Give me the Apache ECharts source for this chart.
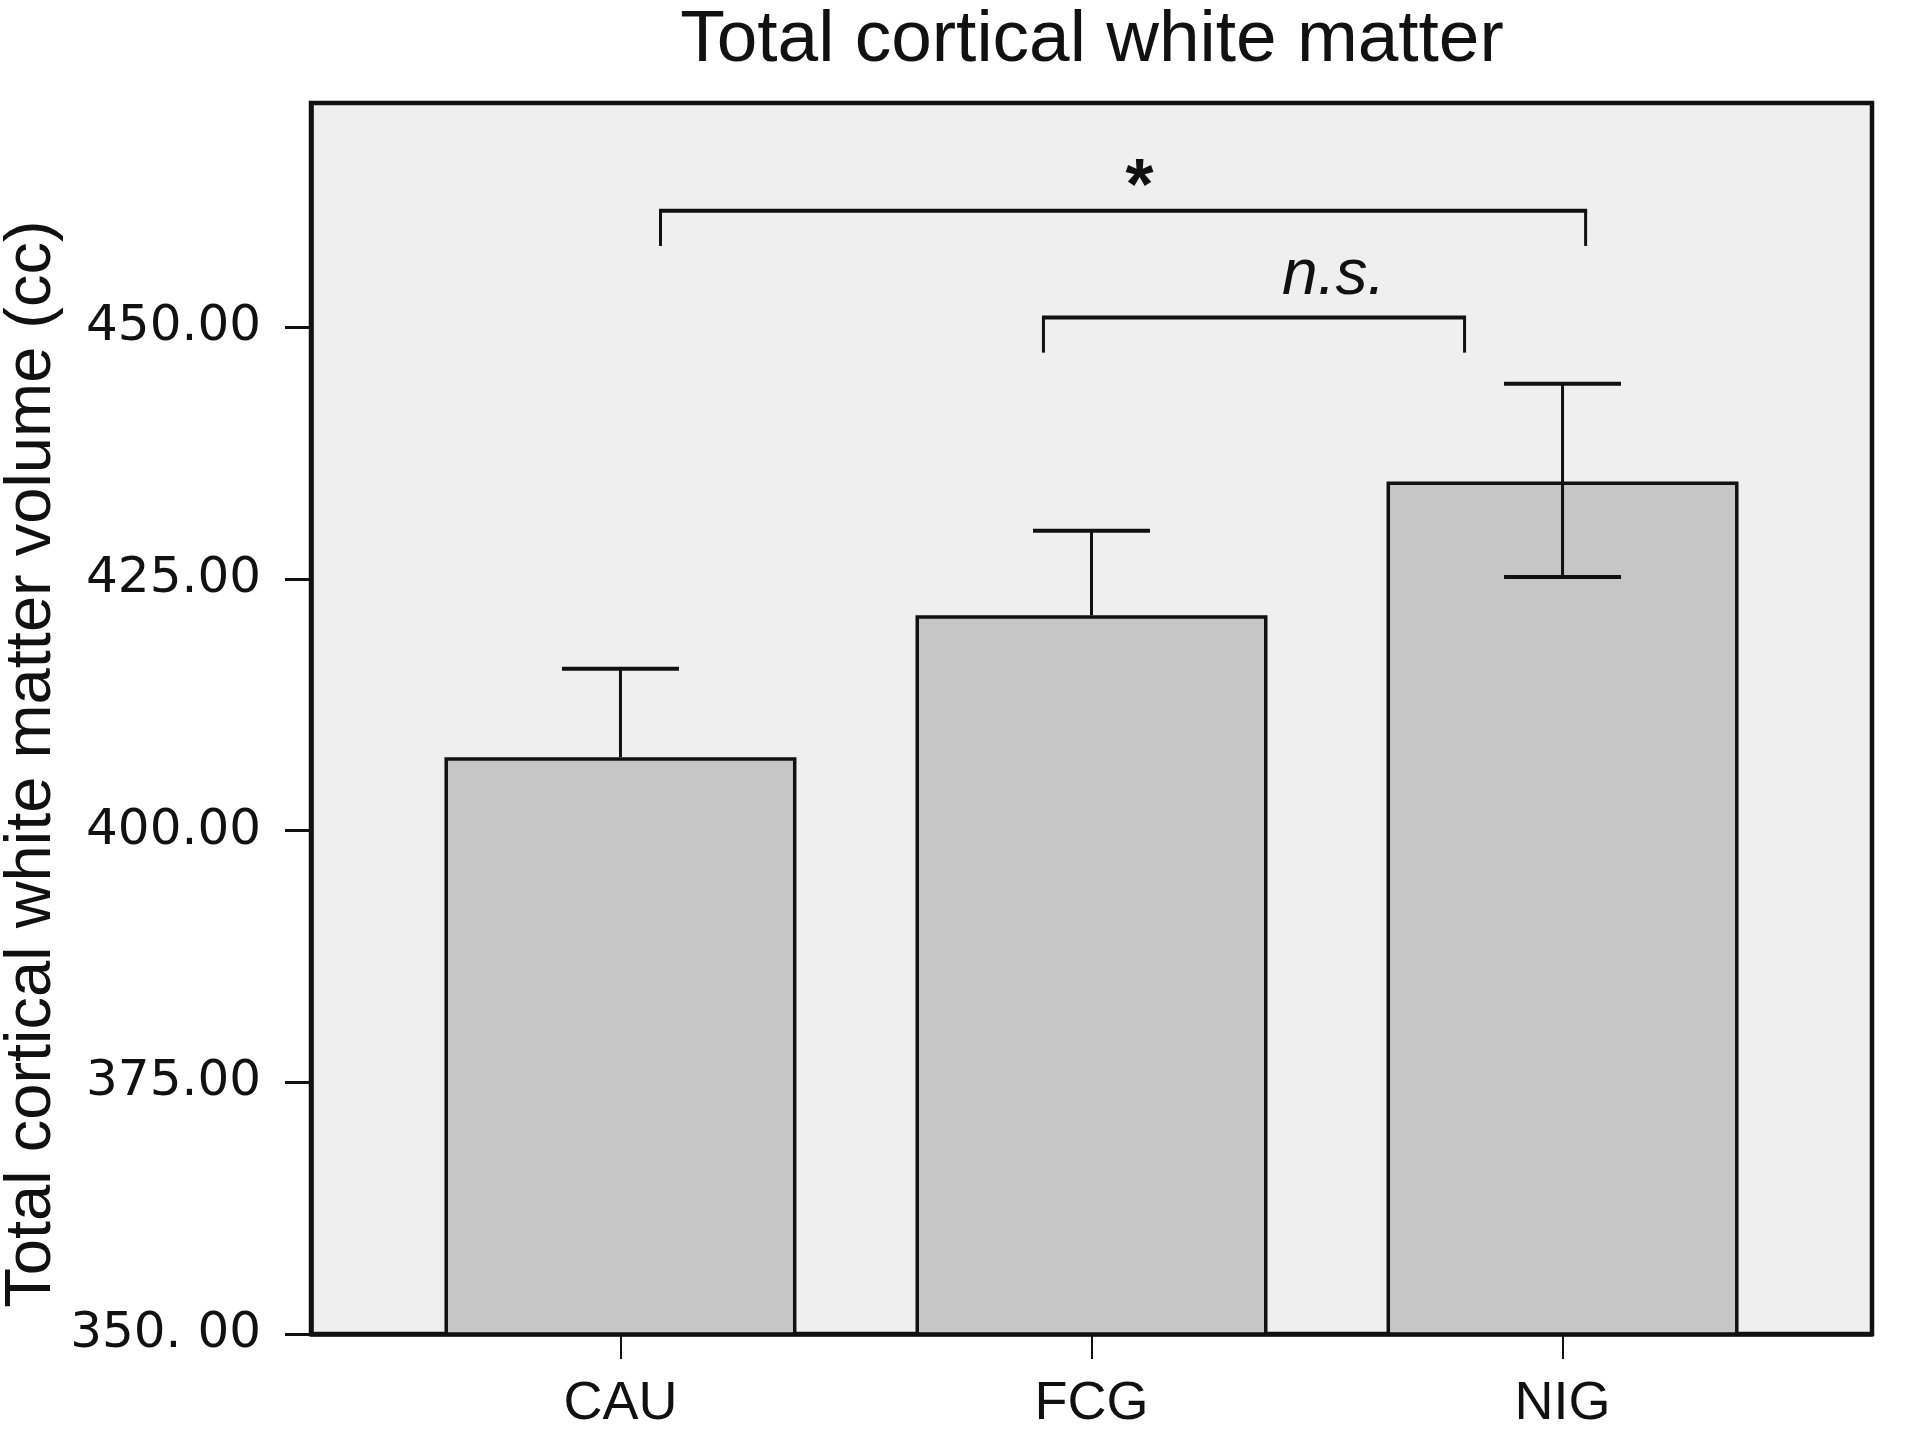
<!DOCTYPE html>
<html>
<head>
<meta charset="utf-8">
<script src="https://cdn.jsdelivr.net/npm/echarts@6/dist/echarts.min.js"></script>
<style>
html,body{margin:0;padding:0;background:#fff;}
#chart{width:1920px;height:1431px;}
</style>
</head>
<body>
<div id="chart"></div>
<script>
// ---- data ----
const categories = ['CAU', 'FCG', 'NIG'];
const categoryPos = [1, 2, 3];
const means = [407.3, 421.4, 434.7];
const errUpper = [416.1, 429.8, 444.4];
const errLower = [null, null, 425.2];
const yTickValues = [350, 375, 400, 425, 450];
const yTickLabels = ['350. 00', '375.00', '400.00', '425.00', '450.00'];
const titleText = 'Total cortical white matter';
const yAxisName = 'Total cortical white matter volume (cc)';
// significance brackets (data coordinates)
const bracketFrom = [1.085, 1.898];
const bracketTo = [3.049, 2.792];
const bracketTop = [461.6, 451.0];
const bracketFoot = [458.1, 447.5];
const bracketLabels = ['*', 'n.s.'];
const bracketLabelX = [2.102, 2.514];
const bracketLabelY = [464.7, 455.1];

const chart = echarts.init(document.getElementById('chart'), null, {renderer: 'canvas'});
const ink = '#111111';
const sans = '"Liberation Sans", Arial, Helvetica, sans-serif';

const barData = categories.map((c, i) => [categoryPos[i], means[i]]);
const errData = categories.map((c, i) => [categoryPos[i], errUpper[i], errLower[i] == null ? means[i] : errLower[i], errLower[i] == null ? 0 : 1]);
const bracketData = bracketFrom.map((x0, i) => [x0, bracketTo[i], bracketTop[i], bracketFoot[i], i]);
const labelData = bracketLabels.map((t, i) => [bracketLabelX[i], bracketLabelY[i], i]);

const option = {
  animation: false,
  backgroundColor: '#ffffff',
  grid: {
    left: 311, right: 48, top: 103, bottom: 95,
    show: true, backgroundColor: '#efefef', borderColor: ink, borderWidth: 4.5
  },
  graphic: [
    {
      type: 'text', x: 1092, y: 4,
      style: {text: titleText, font: '73px ' + sans, fill: ink, textAlign: 'center', textVerticalAlign: 'top'}
    },
    {
      type: 'text', x: 32, y: 764, rotation: Math.PI / 2,
      style: {text: yAxisName, font: '65px ' + sans, fill: ink, textAlign: 'center', textVerticalAlign: 'middle'}
    }
  ],
  xAxis: {
    type: 'value', min: 0.343, max: 3.657,
    splitLine: {show: false},
    axisLine: {show: true, onZero: false, lineStyle: {color: ink, width: 4.5}},
    axisTick: {show: true, customValues: categoryPos, length: 25, inside: false, lineStyle: {color: ink, width: 2}},
    axisLabel: {
      show: true, customValues: categoryPos, margin: 43,
      formatter: v => categories[Math.round(v) - 1] || '',
      color: ink, fontSize: 54, fontFamily: sans
    }
  },
  yAxis: {
    type: 'value', min: 350, max: 472.3,
    splitLine: {show: false},
    axisLine: {show: true, onZero: false, lineStyle: {color: ink, width: 4.5}},
    axisTick: {show: true, customValues: yTickValues, length: 26, lineStyle: {color: ink, width: 3}},
    axisLabel: {
      show: true, customValues: yTickValues, margin: 50,
      formatter: v => { const k = yTickValues.indexOf(Math.round(v)); return k >= 0 ? yTickLabels[k] : ''; },
      color: ink, fontSize: 50, fontFamily: '"DejaVu Sans", sans-serif'
    }
  },
  series: [
    {
      type: 'bar', data: barData, barWidth: 352, clip: true, z: 2,
      itemStyle: {color: '#c6c6c6', borderColor: ink, borderWidth: 3.5}
    },
    {
      type: 'custom', data: errData, z: 5, clip: false,
      renderItem: (params, api) => {
        const x = api.value(0);
        const hi = api.coord([x, api.value(1)]);
        const lo = api.coord([x, api.value(2)]);
        const half = 58.5;
        const children = [
          {type: 'line', shape: {x1: hi[0], y1: hi[1], x2: lo[0], y2: lo[1]}, style: {stroke: ink, lineWidth: 3}},
          {type: 'line', shape: {x1: hi[0] - half, y1: hi[1], x2: hi[0] + half, y2: hi[1]}, style: {stroke: ink, lineWidth: 4}}
        ];
        if (api.value(3) === 1) {
          children.push({type: 'line', shape: {x1: lo[0] - half, y1: lo[1], x2: lo[0] + half, y2: lo[1]}, style: {stroke: ink, lineWidth: 4}});
        }
        return {type: 'group', children};
      }
    },
    {
      type: 'custom', data: bracketData, z: 5, clip: false,
      renderItem: (params, api) => {
        const a = api.coord([api.value(0), api.value(3)]);
        const b = api.coord([api.value(0), api.value(2)]);
        const c = api.coord([api.value(1), api.value(2)]);
        const d = api.coord([api.value(1), api.value(3)]);
        return {
          type: 'group', children: [
            {type: 'line', shape: {x1: a[0], y1: a[1], x2: b[0], y2: b[1]}, style: {stroke: ink, lineWidth: 3}},
            {type: 'line', shape: {x1: b[0] - 1.5, y1: b[1], x2: c[0] + 1.5, y2: c[1]}, style: {stroke: ink, lineWidth: 4}},
            {type: 'line', shape: {x1: c[0], y1: c[1], x2: d[0], y2: d[1]}, style: {stroke: ink, lineWidth: 3}}
          ]
        };
      }
    },
    {
      type: 'custom', data: labelData, z: 6, clip: false,
      renderItem: (params, api) => {
        const p = api.coord([api.value(0), api.value(1)]);
        const idx = api.value(2);
        const isStar = bracketLabels[idx] === '*';
        return {
          type: 'text', x: p[0], y: isStar ? p[1] + 10 : p[1],
          style: {
            text: bracketLabels[idx],
            font: (isStar ? 'bold 72px ' : 'italic 64px ') + sans,
            fill: ink, textAlign: 'center', textVerticalAlign: 'middle'
          }
        };
      }
    }
  ]
};
chart.setOption(option);
</script>
</body>
</html>
